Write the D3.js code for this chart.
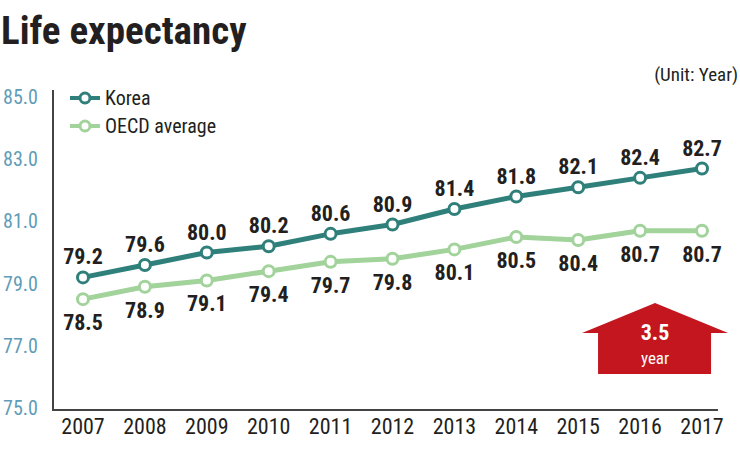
<!DOCTYPE html>
<html>
<head>
<meta charset="utf-8">
<script src="https://cdn.jsdelivr.net/npm/d3@7"></script>
<style>
  body { margin: 0; background: #fff; }
  text { font-family: "Liberation Sans Narrow", "Roboto Condensed", "Arial Narrow", sans-serif; }
</style>
</head>
<body>
<div id="chart"></div>
<script>
const years = ["2007","2008","2009","2010","2011","2012","2013","2014","2015","2016","2017"];
const korea = [79.2, 79.6, 80.0, 80.2, 80.6, 80.9, 81.4, 81.8, 82.1, 82.4, 82.7];
const oecd  = [78.5, 78.9, 79.1, 79.4, 79.7, 79.8, 80.1, 80.5, 80.4, 80.7, 80.7];
const yTicks = [75, 77, 79, 81, 83, 85];

const W = 740, H = 449;
const svg = d3.select("#chart").append("svg")
  .attr("width", W).attr("height", H);

const x = d3.scalePoint().domain(years).range([83, 702]);
const y = d3.scaleLinear().domain([75, 85]).range([408, 97]);

// title
svg.append("text")
  .attr("x", 1).attr("y", 44)
  .attr("font-size", 39).attr("font-weight", "bold")
  .attr("fill", "#231f20")
  .text("Life expectancy");

svg.append("text")
  .attr("x", 738).attr("y", 81)
  .attr("text-anchor", "end")
  .attr("font-size", 19).attr("fill", "#231f20")
  .text("(Unit: Year)");

// axes
svg.append("line")
  .attr("x1", 53).attr("x2", 53).attr("y1", 90).attr("y2", 410)
  .attr("stroke", "#444").attr("stroke-width", 2);
svg.append("line")
  .attr("x1", 52).attr("x2", 718).attr("y1", 410).attr("y2", 410)
  .attr("stroke", "#444").attr("stroke-width", 2);

svg.selectAll(".ytick").data(yTicks).join("text")
  .attr("class", "ytick")
  .attr("x", 38).attr("y", d => y(d) + 7)
  .attr("text-anchor", "end")
  .attr("font-size", 20).attr("fill", "#5f9cb8")
  .text(d => d.toFixed(1));

svg.selectAll(".xtick").data(years).join("text")
  .attr("class", "xtick")
  .attr("x", d => x(d)).attr("y", 434)
  .attr("text-anchor", "middle")
  .attr("font-size", 22).attr("fill", "#231f20")
  .text(d => d);

// arrow annotation
const ax = (x("2016") + x("2017")) / 2 - 16;
const arrow = svg.append("g").attr("transform", `translate(${ax},0)`);
arrow.append("path")
  .attr("d", "M0,303 L73,333 L56,333 L56,374 L-57,374 L-57,333 L-73,333 Z")
  .attr("fill", "#c3161f");
arrow.append("text")
  .attr("x", 0).attr("y", 340).attr("text-anchor", "middle")
  .attr("font-size", 22).attr("font-weight", "bold").attr("fill", "#fff")
  .text("3.5");
arrow.append("text")
  .attr("x", 0).attr("y", 364).attr("text-anchor", "middle")
  .attr("font-size", 17).attr("fill", "#fff")
  .text("year");

// series
const series = [
  { name: "Korea", values: korea, color: "#2f7f7a", above: true },
  { name: "OECD average", values: oecd, color: "#a1d39b", above: false }
];

const line = d3.line().x((d, i) => x(years[i])).y(d => y(d));

series.forEach(s => {
  svg.append("path")
    .attr("d", line(s.values))
    .attr("fill", "none")
    .attr("stroke", s.color).attr("stroke-width", 5)
    .attr("stroke-linejoin", "round");
  svg.selectAll(null).data(s.values).join("circle")
    .attr("cx", (d, i) => x(years[i])).attr("cy", d => y(d))
    .attr("r", 5.5)
    .attr("fill", "#fff").attr("stroke", s.color).attr("stroke-width", 3);
  svg.selectAll(null).data(s.values).join("text")
    .attr("x", (d, i) => x(years[i]))
    .attr("y", d => s.above ? y(d) - 13 : y(d) + 31)
    .attr("text-anchor", "middle")
    .attr("font-size", 22).attr("font-weight", "bold").attr("fill", "#231f20")
    .text(d => d.toFixed(1));
});

// legend
series.forEach((s, i) => {
  const ly = 98 + i * 28;
  const g = svg.append("g");
  g.append("line")
    .attr("x1", 70).attr("x2", 100).attr("y1", ly).attr("y2", ly)
    .attr("stroke", s.color).attr("stroke-width", 4);
  g.append("circle")
    .attr("cx", 85).attr("cy", ly).attr("r", 5)
    .attr("fill", "#fff").attr("stroke", s.color).attr("stroke-width", 3);
  g.append("text")
    .attr("x", 105).attr("y", ly + 7)
    .attr("font-size", 20).attr("fill", "#231f20")
    .text(s.name);
});
</script>
</body>
</html>
